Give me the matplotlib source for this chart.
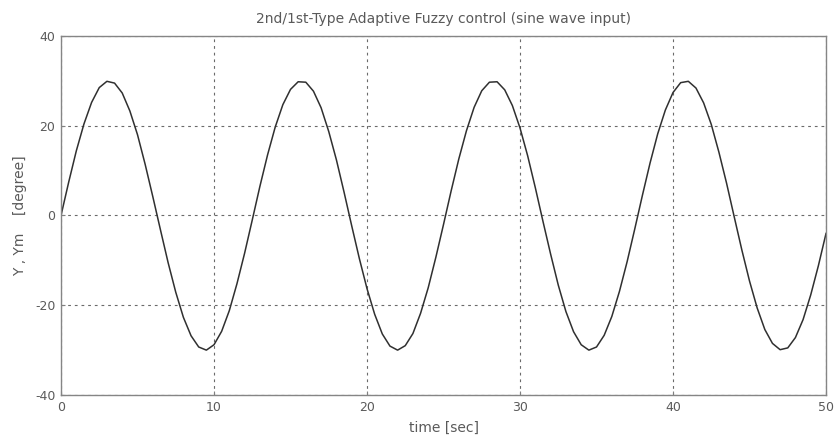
import matplotlib
matplotlib.use("Agg")
import matplotlib.pyplot as plt

# time axis samples [sec] and response, 0.5 s apart
t_sec = [i * 0.5 for i in range(101)]
y_deg = [
    0.0, 7.4, 14.4, 20.4, 25.2, 28.5, 29.9, 29.5, 27.3, 23.3,
    18.0, 11.4, 4.2, -3.2, -10.5, -17.1, -22.7, -26.8, -29.3, -30.0,
    -28.8, -25.8, -21.2, -15.2, -8.4, -1.0, 6.5, 13.5, 19.7, 24.7,
    28.1, 29.8, 29.7, 27.7, 24.0, 18.7, 12.4, 5.2, -2.3, -9.6,
    -16.3, -22.0, -26.4, -29.1, -30.0, -29.0, -26.3, -21.8, -16.1, -9.3,
    -2.0, 5.5, 12.6, 18.9, 24.1, 27.8, 29.7, 29.8, 28.0, 24.5,
    19.5, 13.3, 6.2, -1.3, -8.6, -15.5, -21.4, -25.9, -28.8, -30.0,
    -29.3, -26.7, -22.5, -16.9, -10.3, -3.0, 4.5, 11.7, 18.2, 23.5,
    27.4, 29.6, 29.9, 28.4, 25.1, 20.3, 14.1, 7.2, -0.3, -7.7,
    -14.6, -20.6, -25.4, -28.5, -29.9, -29.5, -27.2, -23.2, -17.7, -11.2,
    -4.0,
]
x_ticks = [0, 10, 20, 30, 40, 50]
y_ticks = [-40, -20, 0, 20, 40]

txt = "#5a5a5a"
plt.rcParams['font.family'] = ['DejaVu Sans']
plt.rcParams['axes.unicode_minus'] = False

fig = plt.figure(figsize=(8.38, 4.42), dpi=100)
ax = fig.add_axes([0.0728, 0.1063, 0.9129, 0.8123])

ax.plot(t_sec, y_deg, color="#303030", linewidth=1.1)

ax.set_xlim(0, 50)
ax.set_ylim(-40, 40)
ax.set_xticks(x_ticks)
ax.set_yticks(y_ticks)
ax.grid(True, color="#6a6a6a", linestyle=(0, (2.5, 3.5)), linewidth=0.8)
ax.tick_params(direction="in", length=3, colors="#808080", labelcolor=txt,
               labelsize=9, pad=4)
for s in ax.spines.values():
    s.set_color("#858585")
    s.set_linewidth(1.0)

ax.set_title("2nd/1st-Type Adaptive Fuzzy control (sine wave input)",
             fontsize=10, color=txt, pad=9)
ax.set_xlabel("time [sec]", fontsize=10, color=txt, labelpad=5)
ax.set_ylabel("Y , Ym    [degree]", fontsize=10, color=txt, labelpad=6)

fig.savefig("out.png", dpi=100)
